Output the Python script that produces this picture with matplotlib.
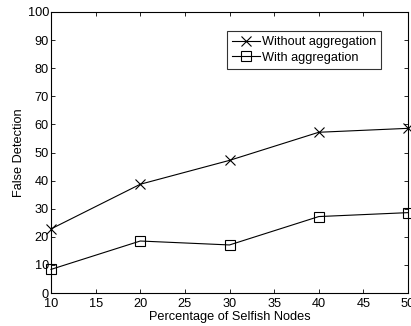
import matplotlib
matplotlib.use("Agg")
import matplotlib.pyplot as plt

plt.rcParams['font.family'] = ['Liberation Sans', 'DejaVu Sans']

selfish_pct = [10, 20, 30, 40, 50]
without_agg = [22.8, 38.7, 47.2, 57.2, 58.6]
with_agg = [8.4, 18.5, 17.1, 27.2, 28.6]
x_ticks = [10, 15, 20, 25, 30, 35, 40, 45, 50]
y_ticks = [0, 10, 20, 30, 40, 50, 60, 70, 80, 90, 100]

FS = 9.2

fig = plt.figure(figsize=(4.11, 3.26), dpi=100)
ax = fig.add_axes([51 / 411, 1 - 293 / 326, 357 / 411, 281 / 326])

ax.plot(selfish_pct, without_agg, color='black', lw=0.8, marker='x',
        markersize=6.5, markeredgewidth=0.8, label='Without aggregation', clip_on=False)
ax.plot(selfish_pct, with_agg, color='black', lw=0.8, marker='s',
        markersize=6.5, markeredgewidth=0.8, markerfacecolor='none',
        label='With aggregation', clip_on=False)

ax.set_xlim(10, 50)
ax.set_ylim(0, 100)
ax.set_xticks(x_ticks)
ax.set_yticks(y_ticks)
ax.tick_params(direction='in', top=True, right=True, length=3, width=0.6,
               labelsize=FS)
ax.tick_params(axis='x', pad=3.5)
ax.tick_params(axis='y', pad=1.5)
for s in ax.spines.values():
    s.set_linewidth(0.8)

ax.set_xlabel('Percentage of Selfish Nodes', fontsize=FS, labelpad=0.5)
ax.set_ylabel('False Detection', fontsize=FS, labelpad=1.5)

leg = ax.legend(loc='upper left', bbox_to_anchor=((227 - 51) / 357, (293 - 31) / 281),
                fontsize=FS, frameon=True, fancybox=False, edgecolor='black',
                borderpad=0.4, handlelength=2.2, handletextpad=0.1,
                labelspacing=0.3, borderaxespad=0)
leg.get_frame().set_linewidth(0.8)

fig.savefig('out.png', dpi=100)
